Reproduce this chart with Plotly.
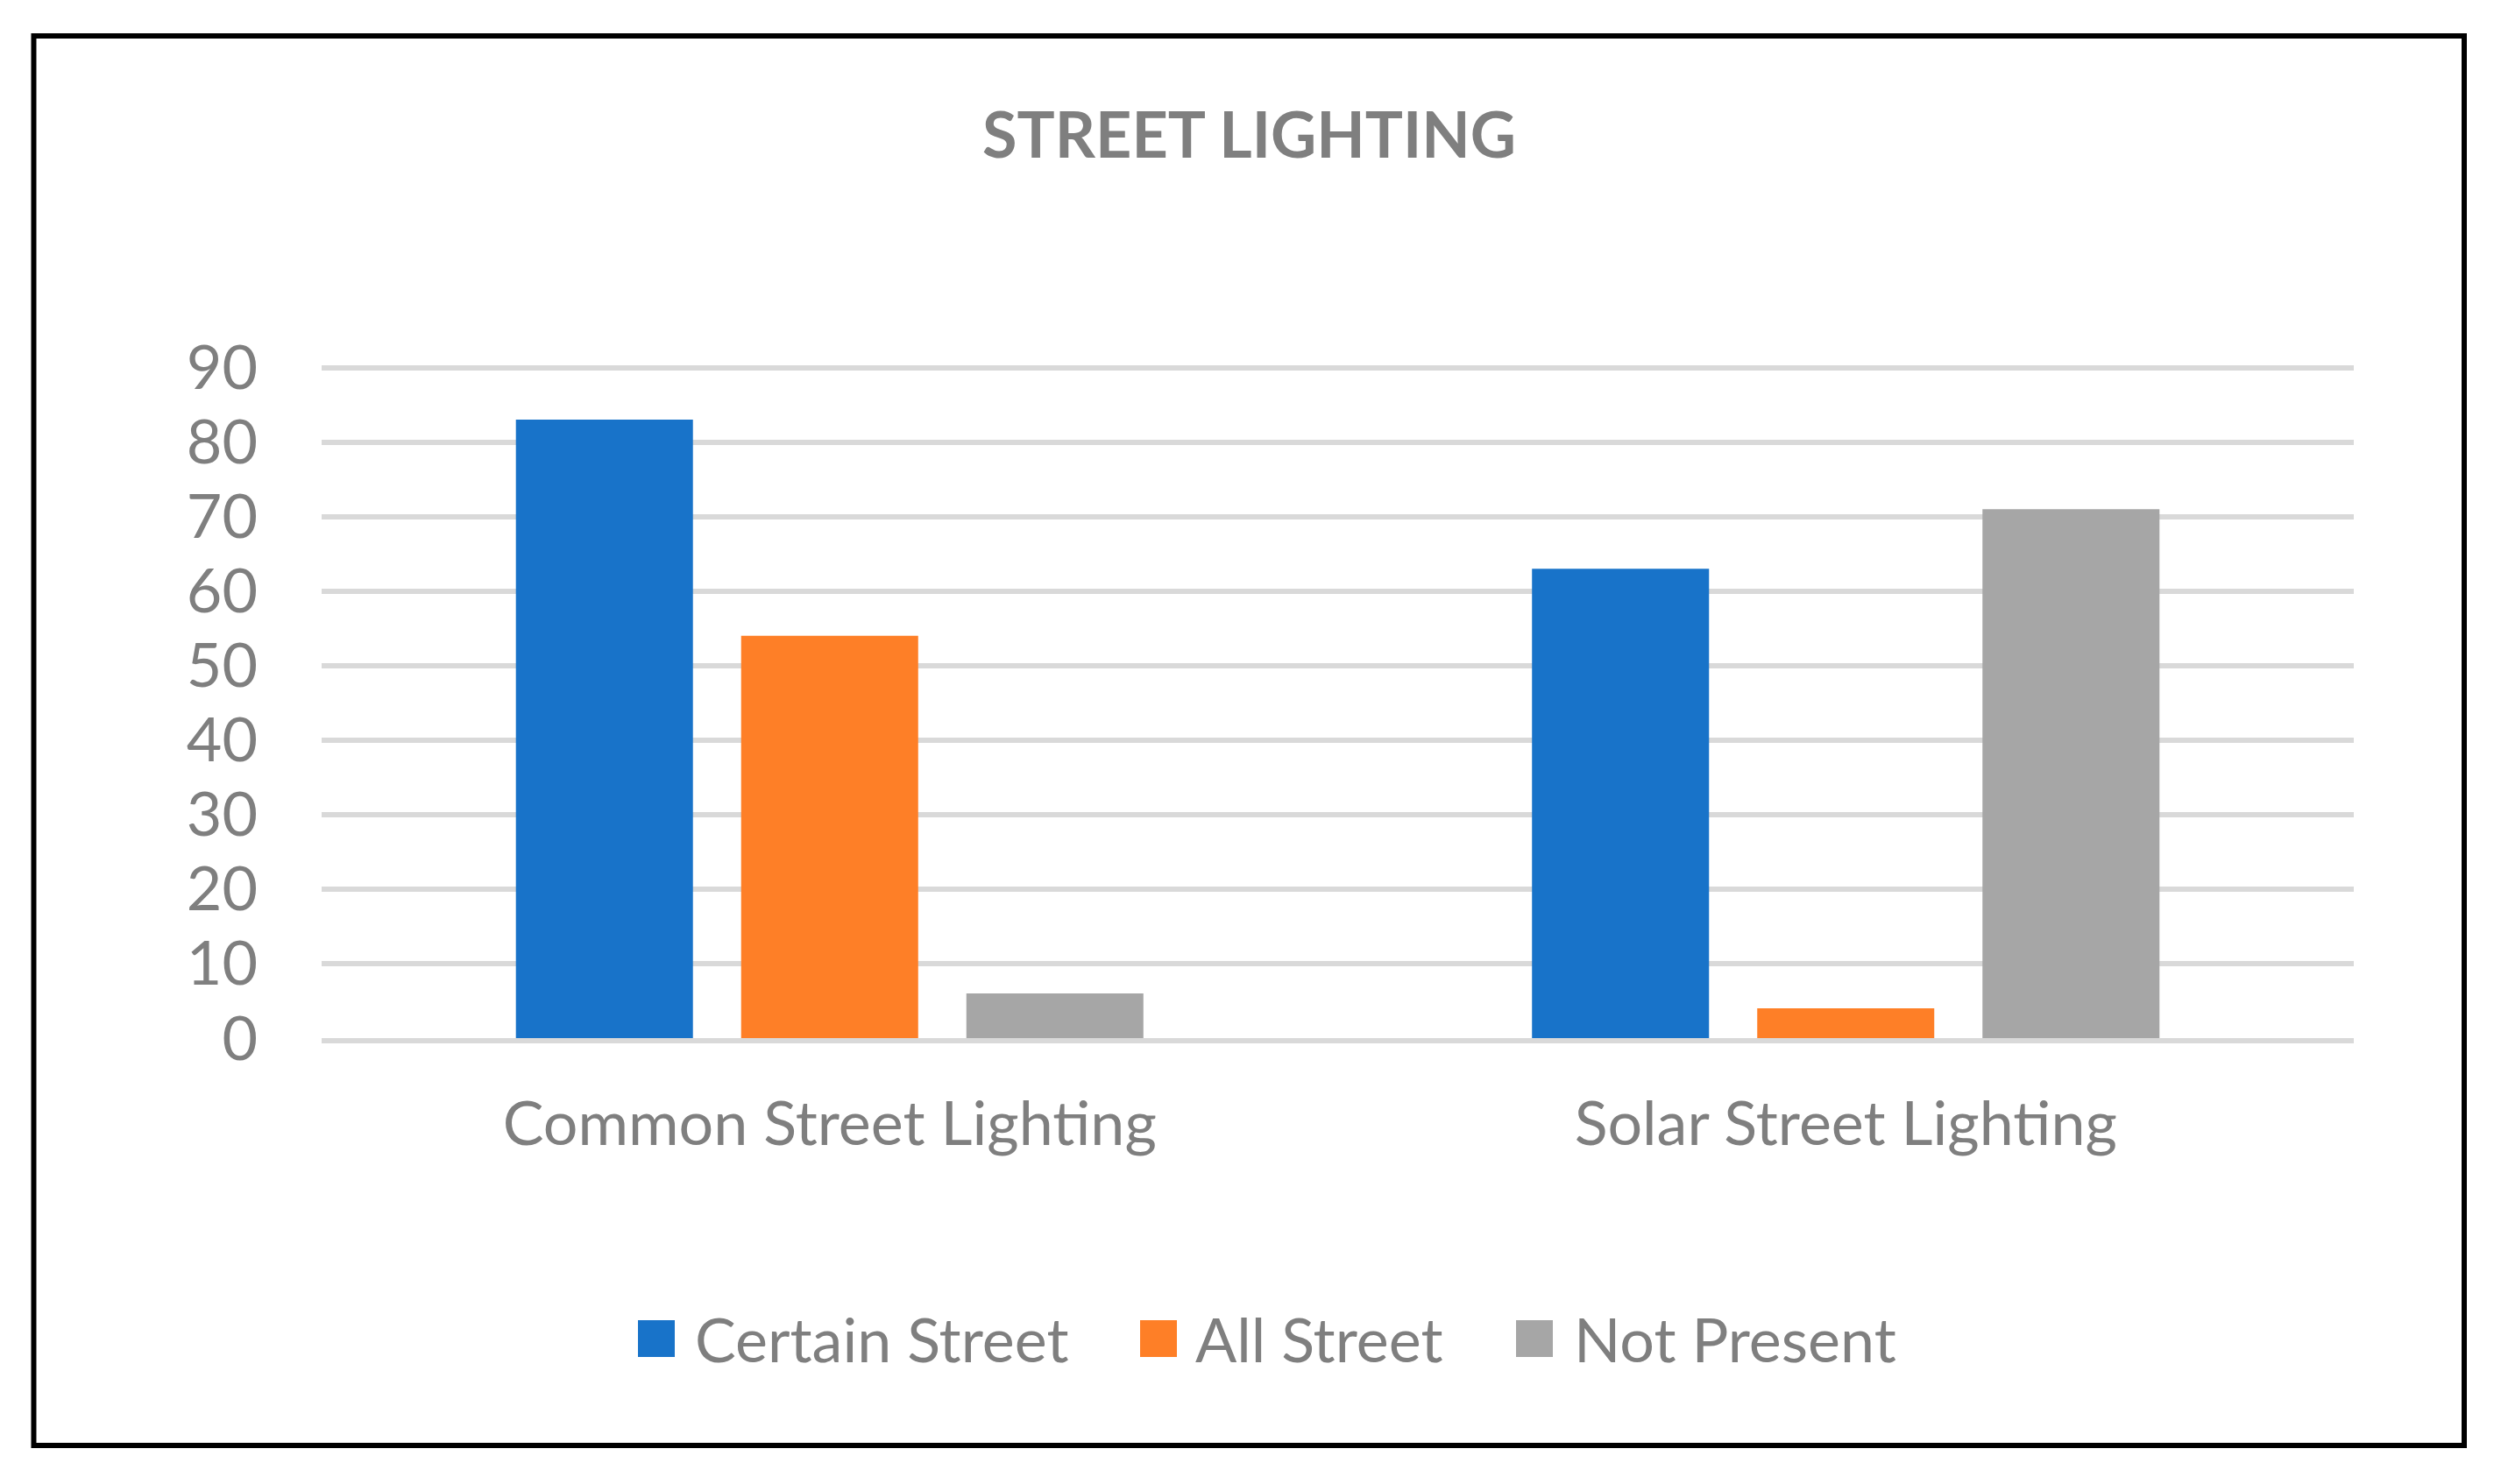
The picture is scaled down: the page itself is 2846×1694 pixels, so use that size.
import plotly.graph_objects as go

# ---------------- data ----------------
categories = ["Common Street Lighting", "Solar Street Lighting"]
series_names = ["Certain Street", "All Street", "Not Present"]
certain_street = [83, 63]
all_street = [54, 4]
not_present = [6, 71]
y_tick_values = [0, 10, 20, 30, 40, 50, 60, 70, 80, 90]
chart_title = "STREET LIGHTING"

# ---------------- styles ----------------
colors = ["#1873C9", "#FE7F27", "#A6A6A6"]
text_gray = "#7F7F7F"
grid_gray = "#D9D9D9"
FONT = "Lato"

OFF = 8  # default page body margin of the written html
W, H = 2846, 1694
# plot area in page pixel coordinates
PL, PR, PT, PB = 367, 2686, 417, 1185
L, T = PL - OFF, PT - OFF
PW, PH = PR - PL, PB - PT
R, B = W - L - PW, H - T - PH


def px_x(p):
    return (p - PL) / PW


def px_y(p):
    return (PB - p) / PH


series_values = [certain_street, all_street, not_present]

fig = go.Figure()
for name, vals, col in zip(series_names, series_values, colors):
    fig.add_trace(go.Bar(
        x=categories, y=vals, name=name,
        marker=dict(color=col, line=dict(width=0)),
        showlegend=False, hoverinfo="skip",
    ))

# ---------------- manual legend (large square swatches like the original) ----------------
sq_left = [728, 1301, 1730]
txt_left = [791, 1362, 1794]
sq_size = 42
leg_cy = 1528
shapes = []
annotations = []
for name, col, sx, tx in zip(series_names, colors, sq_left, txt_left):
    shapes.append(dict(type="rect", xref="paper", yref="paper",
                       x0=px_x(sx), x1=px_x(sx + sq_size),
                       y0=px_y(leg_cy + sq_size / 2), y1=px_y(leg_cy - sq_size / 2),
                       fillcolor=col, line=dict(width=0), layer="above"))
    annotations.append(dict(xref="paper", yref="paper", x=px_x(tx), y=px_y(leg_cy),
                            xanchor="left", yanchor="middle", showarrow=False,
                            text=name, font=dict(family=FONT, size=70, color=text_gray)))

# outer frame
shapes.append(dict(type="rect", xref="paper", yref="paper",
                   x0=px_x(38.5), x1=px_x(2812), y0=px_y(1650), y1=px_y(41),
                   line=dict(color="black", width=6), fillcolor="rgba(0,0,0,0)",
                   layer="above"))

# title as annotation (centered on the frame)
annotations.append(dict(xref="paper", yref="paper", x=px_x(1425), y=px_y(152),
                        xanchor="center", yanchor="middle", showarrow=False,
                        text="<b>" + chart_title + "</b>",
                        font=dict(family=FONT, size=72, color=text_gray)))

fig.update_layout(
    width=W, height=H,
    margin=dict(l=L, r=R, t=T, b=B, pad=0),
    paper_bgcolor="white", plot_bgcolor="white",
    barmode="group", bargap=0.335, bargroupgap=0.214,
    font=dict(family=FONT, color=text_gray),
    shapes=shapes, annotations=annotations,
    showlegend=False,
)

fig.update_xaxes(
    showgrid=False, zeroline=False,
    showline=True, linecolor=grid_gray, linewidth=6, layer="above traces",
    ticks="", ticklabelstandoff=32,
    tickfont=dict(family=FONT, size=70, color=text_gray),
)
fig.update_yaxes(
    range=[0, 90.3], tickvals=y_tick_values,
    showgrid=True, gridcolor=grid_gray, gridwidth=6,
    zeroline=False, showline=False, ticks="",
    ticklabelstandoff=72,
    tickfont=dict(family=FONT, size=70, color=text_gray),
)

fig.write_html("out.html")
